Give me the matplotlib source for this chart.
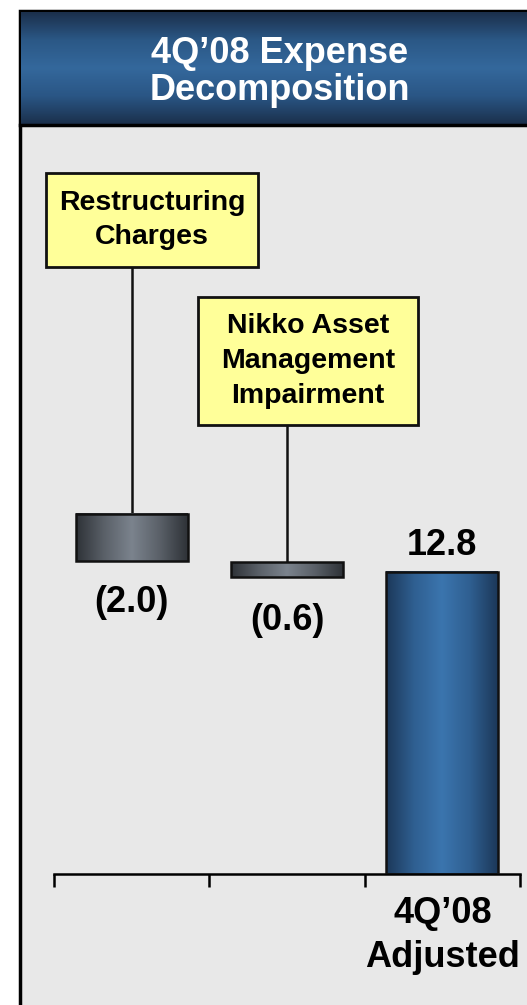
import numpy as np
import matplotlib
matplotlib.use("Agg")
import matplotlib.pyplot as plt
from matplotlib.patches import Rectangle
from matplotlib.colors import LinearSegmentedColormap

plt.rcParams['font.family'] = ['Liberation Sans', 'DejaVu Sans']
plt.rcParams['font.weight'] = 'bold'

# data
categories = ['Restructuring\nCharges', 'Nikko Asset\nManagement\nImpairment', '4Q\u201908\nAdjusted']
values = [-2.0, -0.6, 12.8]
bottoms = [13.25, 12.6, 0.0]          # floating bar bases as drawn
value_labels = ['(2.0)', '(0.6)', '12.8']
tick_labels = ['', '', '4Q\u201908\nAdjusted']
title = '4Q\u201908 Expense\nDecomposition'

W, H = 527, 1005
fig = plt.figure(figsize=(W / 100, H / 100), dpi=100)
fig.patch.set_facecolor('white')

# background frame + title band, drawn in pixel coords
bg = fig.add_axes([0, 0, 1, 1], zorder=0)
bg.set_xlim(0, W)
bg.set_ylim(H, 0)
bg.axis('off')
bg.add_patch(Rectangle((20, 11), 540, 1100, facecolor='#e8e8e8', edgecolor='black', lw=2.5))
band = LinearSegmentedColormap.from_list('band', ['#1b2f4b', '#2b5886', '#34689c', '#2a5685', '#1b304c'])
bg.imshow(np.linspace(0, 1, 256).reshape(-1, 1), cmap=band, aspect='auto',
          extent=[21, W, 124, 12], origin='upper', zorder=1)
bg.plot([20, W], [125, 125], color='black', lw=2.5, zorder=2)
bg.set_xlim(0, W)
bg.set_ylim(H, 0)
bg.text(280, 72, title, color='white', fontsize=26, fontweight='bold',
        ha='center', va='center', linespacing=1.1, zorder=3)

# main chart axes
ax = fig.add_axes([54 / W, (H - 874) / H, 466 / W, 744 / H], zorder=1)
ax.patch.set_alpha(0)

grey = LinearSegmentedColormap.from_list('grey', ['#2e3237', '#5a6068', '#7b838d', '#5a6068', '#2e3237'])
blue = LinearSegmentedColormap.from_list('blue', ['#1c3859', '#2f5f91', '#3b75ae', '#2f5f91', '#1c3859'])
cmaps = [grey, grey, blue]
grad = np.linspace(0, 1, 256).reshape(1, -1)
width = 0.72

x = np.arange(len(values))
for i, (v, b) in enumerate(zip(values, bottoms)):
    lo, hi = b, b + abs(v)
    ax.imshow(grad, cmap=cmaps[i], aspect='auto', extent=[i - width / 2, i + width / 2, lo, hi], zorder=2)
bars = ax.bar(x, [abs(v) for v in values], bottom=bottoms, width=width,
              facecolor='none', edgecolor='#111111', lw=1.8, zorder=3)

label_off = [-29.5, -31.5, 19]
for i, (v, b) in enumerate(zip(values, bottoms)):
    y = b if v < 0 else b + v
    ax.annotate(value_labels[i], (i, y), xytext=(0, label_off[i]), textcoords='offset points',
                ha='center', va='center', fontsize=26, fontweight='bold')

# callout boxes for the adjustments
boxes = [(-0.552, 25.72, 1.365, 3.98), (0.427, 19.03, 1.416, 5.42)]
for i, (bx, by, bw, bh) in enumerate(boxes):
    ax.add_patch(Rectangle((bx, by), bw, bh, facecolor='#ffff99', edgecolor='#111111',
                           lw=2, zorder=4, clip_on=False))
    ax.text(bx + bw / 2, by + bh / 2, categories[i], ha='center', va='center', fontsize=20.5,
            fontweight='bold', linespacing=1.44, zorder=5, clip_on=False)
    ax.plot([i, i], [bottoms[i] + abs(values[i]), by], color='#111111', lw=1.8, zorder=1)

ax.set_xlim(-0.5, 2.5)
ax.set_ylim(0, 744 / 23.6)
for s in ['left', 'right', 'top']:
    ax.spines[s].set_visible(False)
ax.spines['bottom'].set_linewidth(1.8)
ax.set_yticks([])
ax.set_xticks([-0.5, 0.5, 1.5, 2.5])
ax.set_xticklabels([])
ax.tick_params(axis='x', which='major', length=9, width=1.8, direction='out')
ax.set_xticks(x, minor=True)
ax.set_xticklabels(tick_labels, minor=True, fontsize=26, fontweight='bold', linespacing=1.33)
ax.tick_params(axis='x', which='minor', length=0, pad=16)

fig.savefig('out.png', dpi=100)
